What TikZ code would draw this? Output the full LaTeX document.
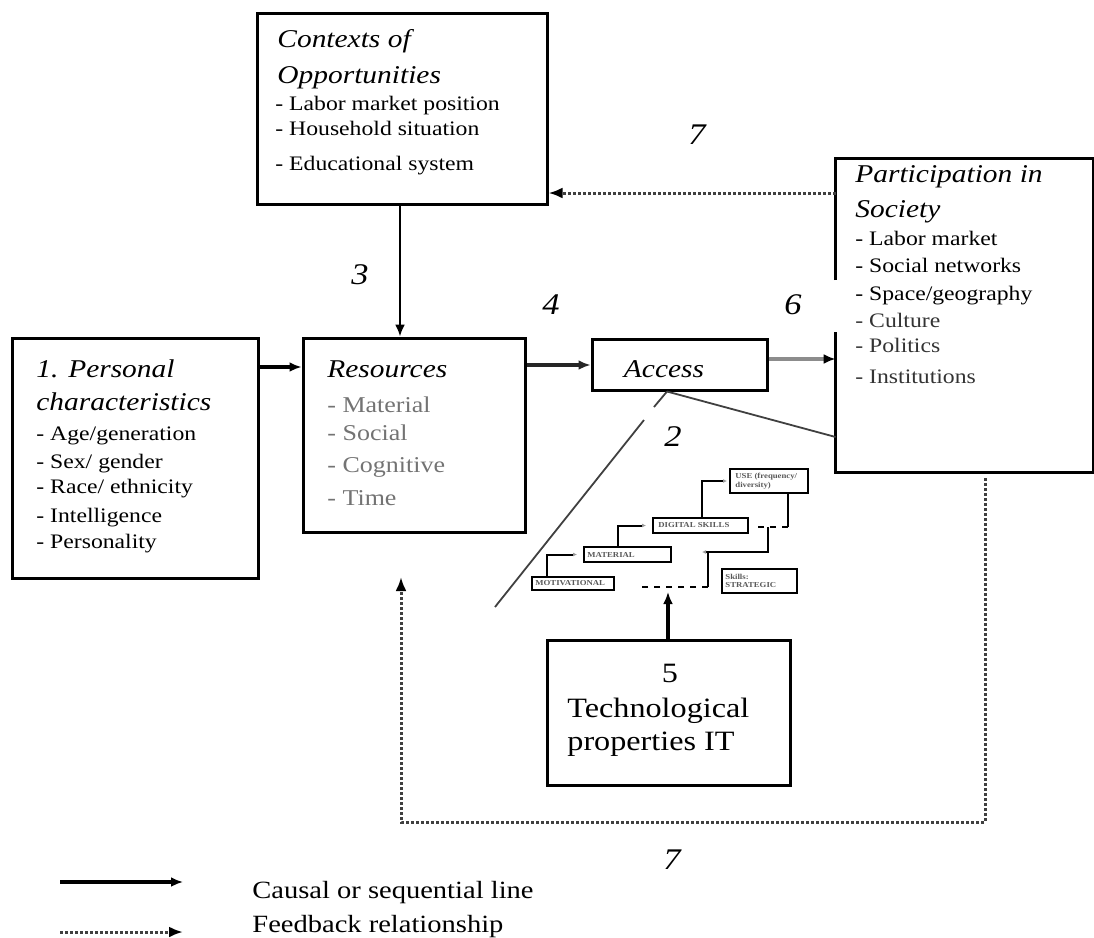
\documentclass[tikz,border=0pt]{standalone}
\usepackage{fontspec}
\setmainfont{Liberation Serif}[FakeStretch=1.15]
\usetikzlibrary{fit,arrows.meta}
\tikzset{
	box/.style={draw,line width=1.5pt,inner sep=0pt},
	stairbox/.style={draw,line width=1pt,inner sep=0pt},
	head/.style={anchor=base west,inner sep=0pt,font=\fontsize{12.8}{14}\selectfont\itshape},
	item/.style={anchor=base west,inner sep=0pt,font=\fontsize{10.3}{12}\selectfont},
	num/.style={inner sep=0pt,font=\fontsize{15}{17}\selectfont\itshape},
	mini/.style={anchor=west,inner sep=0pt,align=left,text=black!65,font=\fontsize{3.8}{4.3}\selectfont\bfseries},
	causal/.style={line width=1.8pt,-{Latex[length=6pt,width=5pt]}},
	feedback/.style={line width=1.5pt,densely dotted,black!75,-{Latex[length=7pt,width=5.5pt,black]}},
	stairline/.style={line width=1pt},
	thinline/.style={line width=.9pt,black!75}
}
\begin{document}
\begin{tikzpicture}[x=0.5pt,y=-0.5pt,>=latex]
		\useasboundingbox (0,0) rectangle (1094,938);
		% boxes
		\node[box,fit={(257,13) (547,204)}] (ctx) {};
		\node[box,fit={(12,338) (258,578)}] (pers) {};
		\node[box,fit={(303,338) (525,532)}] (res) {};
		\node[box,fit={(592,339) (767,390)}] (acc) {};
		\node[box,fit={(547,640) (790,785)}] (tech) {};
		\node[inner sep=0pt,fit={(836,159) (1093,472)}] (part) {};
		\draw[line width=1.5pt] (part.west |- 0,280)--(part.north west)--(part.north east)--(part.south east)--(part.south west)--(part.west |- 0,332);
		% contexts of opportunities
		\node[head] at (277,47) {Contexts of};
		\node[head] at (277,83) {Opportunities};
		\node[item] at (275,110) {- Labor market position};
		\node[item] at (275,135) {- Household situation};
		\node[item] at (275,170) {- Educational system};
		% personal characteristics
		\node[head] at (36,377) {1. Personal};
		\node[head] at (36,410) {characteristics};
		\node[item] at (36,440) {- Age/generation};
		\node[item] at (36,468) {- Sex/ gender};
		\node[item] at (36,493) {- Race/ ethnicity};
		\node[item] at (36,522) {- Intelligence};
		\node[item] at (36,548) {- Personality};
		% resources
		\node[head] at (327,377) {Resources};
		\begin{scope}[every node/.style={item,text=black!55,font=\fontsize{11.3}{13}\selectfont}]
		\node at (327,412) {- Material};
		\node at (327,440) {- Social};
		\node at (327,472) {- Cognitive};
		\node at (327,505) {- Time};
		\end{scope}
		\node[head,anchor=base] at (664,377) {Access};
		% participation in society
		\node[head] at (855,182) {Participation in};
		\node[head] at (855,217) {Society};
		\node[item] at (855,245) {- Labor market};
		\node[item] at (855,272) {- Social networks};
		\node[item] at (855,300) {- Space/geography};
		\node[item,text=black!80] at (855,327) {- Culture};
		\node[item,text=black!80] at (855,352) {- Politics};
		\node[item,text=black!80] at (855,383) {- Institutions};
		% technological properties
		\node[anchor=base,inner sep=0pt,font=\fontsize{14}{16}\selectfont] at (670,682) {5};
		\node[anchor=base west,inner sep=0pt,font=\fontsize{14}{16}\selectfont] at (567,717) {Technological};
		\node[anchor=base west,inner sep=0pt,font=\fontsize{14}{16}\selectfont] at (567,750) {properties IT};
		% numbers
		\node[num] (n3) at (360,275) {3};
		\node[num] (n4) at (551,305) {4};
		\node[num] (n6) at (793,305) {6};
		\node[num] (n7) at (697,135) {7};
		\node[num] (n2) at (673,437) {2};
		\node[num] (n7b) at (672,860) {7};
		% main arrows
		\draw[causal,line width=1.1pt] (ctx.south -| 400,0)--(res.north -| 400,0);
		\draw[causal] (pers.east |- 0,367)--(res.west |- 0,367);
		\draw[causal,line width=2.2pt,black!85] (res.east |- 0,365)--(acc.west |- 0,365);
		\draw[line width=2.2pt,black!45,-{Latex[length=6pt,width=5pt,black]}] (acc.east |- 0,359)--(part.west |- 0,359);
		\draw[feedback] (part.west |- 0,193)--(ctx.east |- 0,193);
		\coordinate (fbend) at (401,577);
		\draw[feedback] (985,478)--(985,822)--(401,822)--(fbend);
		% lines from access
		\draw[thinline] (acc.south -| 667,0)--(654,407);
		\draw[thinline] (644,420)--(495,607);
		\draw[thinline] (acc.south -| 667,0)--(part.west |- 0,437);
		% stairs of access
		\node[stairbox,fit={(532,577) (614,590)}] (sD) {};
		\node[stairbox,fit={(584,547) (671,562)}] (sC) {};
		\node[stairbox,fit={(653,518) (748,533)}] (sB) {};
		\node[stairbox,fit={(730,469) (808,493)}] (sA) {};
		\node[stairbox,fit={(722,569) (797,593)}] (sE) {};
		\node[mini] at ([xshift=2pt]sD.west) {MOTIVATIONAL};
		\node[mini] at ([xshift=2pt]sC.west) {MATERIAL};
		\node[mini] at ([xshift=3pt]sB.west) {DIGITAL SKILLS};
		\node[mini] at ([xshift=3pt]sA.west) {USE (frequency/\\diversity)};
		\node[mini] at ([xshift=2pt]sE.west) {Skills:\\STRATEGIC};
		\draw[stairline,-{Latex[length=2pt,width=2pt,black!40]}] (sD.north -| 547,0) |- ([xshift=-3pt]sC.west);
		\draw[stairline,-{Latex[length=2pt,width=2pt,black!40]}] (sC.north -| 618,0) |- ([xshift=-3pt]sB.west);
		\draw[stairline,-{Latex[length=2pt,width=2pt,black!40]}] (sB.north -| 702,0) |- ([xshift=-1pt]sA.west);
		\draw[stairline] (sA.south -| 788,0)--(788,527) coordinate (a1);
		\draw[stairline,dashed] (a1)--([xshift=3pt]sB.east |- a1);
		\coordinate (a2) at (702,552);
		\draw[stairline,-{Latex[length=2pt,width=2pt,black!40]}] (768,527) |- (a2);
		\draw[stairline] (708,552)--(708,587) coordinate (a3);
		\draw[stairline,dashed] (a3)--(637,587);
		\coordinate (stairfoot) at (668,592);
		\draw[causal,line width=2.2pt] (tech.north -| 668,0)--(stairfoot);
		% legend
		\coordinate (l1a) at (60,882);
		\coordinate (l1b) at (183,882);
		\coordinate (l2a) at (60,932);
		\coordinate (l2b) at (183,932);
		\draw[causal] (l1a)--(l1b);
		\draw[feedback] (l2a)--(l2b);
		\node[anchor=base west,inner sep=0pt,font=\fontsize{12.4}{14}\selectfont] (lg1) at (252,898) {Causal or sequential line};
		\node[anchor=base west,inner sep=0pt,font=\fontsize{12.4}{14}\selectfont] (lg2) at (252,932) {Feedback relationship};
\end{tikzpicture}
\end{document}
